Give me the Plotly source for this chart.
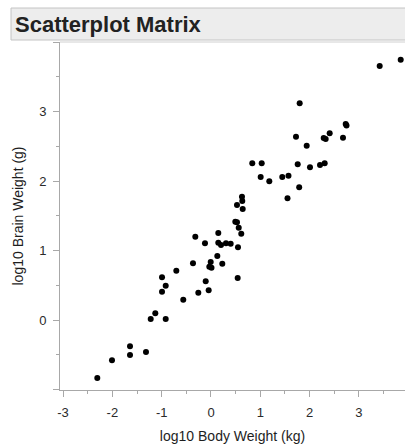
import plotly.graph_objects as go

# log10 body weight (kg) and log10 brain weight (g) for 62 mammal species
log_body = [
    -2.305, -2.007, -1.642, -1.642, -1.318, -1.222, -1.129, -0.918, -0.993, -0.918,
    -0.993, -0.703, -0.562, -0.365, -0.257, -0.107, -0.047, -0.006, -0.034, 0.010,
    -0.318, -0.122, 0.148, 0.148, 0.203, 0.304, 0.399, 0.547, 0.128, 0.229,
    0.541, 0.493, 0.527, 0.562, 0.614, 0.628, 0.634, 0.527, 0.643, 0.837,
    1.028, 1.007, 1.182, 1.445, 1.571, 1.551, 1.758, 1.788, 1.798, 1.723,
    1.940, 2.007, 2.210, 2.305, 2.285, 2.325, 2.406, 2.676, 2.731, 2.747,
    3.420, 3.846,
]
log_brain = [
    -0.835, -0.580, -0.379, -0.504, -0.461, 0.014, 0.096, 0.014, 0.615, 0.494,
    0.408, 0.710, 0.292, 0.817, 0.393, 0.557, 0.428, 0.835, 0.768, 0.752,
    1.200, 1.105, 1.253, 1.113, 1.080, 1.105, 1.099, 1.047, 0.922, 0.811,
    0.605, 1.416, 1.407, 1.329, 1.243, 1.776, 1.714, 1.656, 1.599, 2.257,
    2.257, 2.060, 1.998, 2.060, 2.078, 1.753, 2.244, 1.913, 3.121, 2.640,
    2.510, 2.199, 2.232, 2.257, 2.621, 2.607, 2.689, 2.626, 2.823, 2.801,
    3.658, 3.749,
]

x_ticks = [-3, -2, -1, 0, 1, 2, 3]
y_ticks = [-1, 0, 1, 2, 3, 4]
y_labels = ["", "0", "1", "2", "3", ""]

W, H = 405, 446
L, R, T, B = 60, 0, 42, 56
plot_w = W - L - R
plot_h = H - T - B

FONT = "Liberation Sans, Arial, Helvetica, sans-serif"
AXIS_GRAY = "#a8a8a8"


def px_to_paper_x(px):
    return (px - L) / plot_w


def px_to_paper_y(py):
    return 1 + (T - py) / plot_h


fig = go.Figure(
    go.Scatter(
        x=log_body,
        y=log_brain,
        mode="markers",
        marker=dict(color="black", size=6, line=dict(width=0)),
        hoverinfo="skip",
    )
)

minor_x = [v / 2 for v in range(-7, 8) if v % 2]
minor_y = [v / 2 for v in range(-1, 8) if v % 2]

fig.update_xaxes(
    range=[-3.061, 3.933],
    tickvals=x_ticks,
    ticktext=[str(v) for v in x_ticks],
    showline=True, linecolor=AXIS_GRAY, linewidth=1,
    ticks="outside", ticklen=6, tickcolor=AXIS_GRAY,
    minor=dict(tickvals=minor_x, ticks="outside", ticklen=3, tickcolor=AXIS_GRAY),
    showgrid=False, zeroline=False,
    ticklabelstandoff=4,
    tickfont=dict(family=FONT, size=13, color="#2a2a2a"),
    title=dict(text="log10 Body Weight (kg)",
               font=dict(family=FONT, size=14, color="#1e1e1e"), standoff=12),
)
fig.update_yaxes(
    range=[-1.008, 4.004],
    tickvals=y_ticks,
    ticktext=y_labels,
    showline=True, linecolor=AXIS_GRAY, linewidth=1,
    ticks="outside", ticklen=6, tickcolor=AXIS_GRAY,
    minor=dict(tickvals=minor_y, ticks="outside", ticklen=3, tickcolor=AXIS_GRAY),
    showgrid=False, zeroline=False,
    ticklabelstandoff=4,
    tickfont=dict(family=FONT, size=13, color="#2a2a2a"),
    title=dict(text="log10 Brain Weight (g)",
               font=dict(family=FONT, size=14, color="#1e1e1e"), standoff=12),
)

shapes = [
    # header bar behind the title
    dict(type="rect", xref="paper", yref="paper",
         x0=px_to_paper_x(11), x1=px_to_paper_x(W + 5),
         y0=px_to_paper_y(40), y1=px_to_paper_y(8),
         fillcolor="#ededed", line=dict(color="#c4c4c4", width=1), layer="below"),
    # light frame line along the top of the plot area
    dict(type="line", xref="paper", yref="paper",
         x0=0, x1=1, y0=1, y1=1,
         line=dict(color="#d0d0d0", width=1)),
]

fig.update_layout(
    width=W, height=H,
    margin=dict(l=L, r=R, t=T, b=B),
    paper_bgcolor="white", plot_bgcolor="white",
    showlegend=False,
    shapes=shapes,
    annotations=[
        dict(text="<b>Scatterplot Matrix</b>", xref="paper", yref="paper",
             x=px_to_paper_x(13), y=px_to_paper_y(25),
             xanchor="left", yanchor="middle", showarrow=False,
             font=dict(family=FONT, size=22, color="#222222")),
    ],
)

fig.write_html("out.html")
